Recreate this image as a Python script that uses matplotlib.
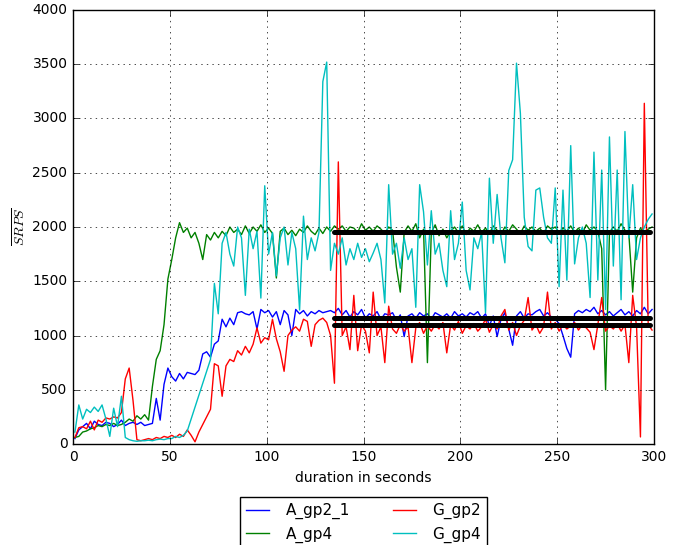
import numpy as np
import matplotlib
matplotlib.use("Agg")
import matplotlib.pyplot as plt

plt.style.use("classic")

# time axis (seconds)
t = np.arange(1, 300, 2)

a_gp2_1 = [
    50, 130, 160, 190, 140, 210, 180, 170, 200, 190,
    160, 180, 220, 170, 190, 200, 180, 200, 170, 180,
    190, 420, 220, 550, 700, 620, 580, 650, 600, 660,
    650, 640, 680, 830, 850, 800, 920, 950, 1150, 1080,
    1160, 1100, 1210, 1220, 1200, 1190, 1220, 1060, 1240, 1210,
    1230, 1170, 1220, 1100, 1230, 1190, 1000, 1240, 1200, 1230,
    1180, 1220, 1200, 1230, 1210, 1220, 1230, 1210,
    1250, 1190, 1230, 1170, 1220, 1190, 1240, 1160, 1200, 1180,
    1220, 1150, 1200, 1190, 1210, 1140, 1190, 990, 1180, 1200,
    1160, 1210, 1180, 1200, 1150, 1210, 1190, 1170, 1200, 1160,
    1220, 1180, 1200, 1170, 1210, 1190, 1220, 1160, 1200, 1090,
    1180, 990, 1150, 1210, 1060, 910, 1180, 1220, 1160, 1200,
    1190, 1220, 1240, 1180, 1210, 1170, 1150, 1110, 1000, 880,
    800, 1200, 1230, 1210, 1240, 1220, 1260, 1200, 1230, 1190,
    1220, 1180, 1210, 1240, 1190, 1220, 1180, 1230, 1200, 1260,
    1200, 1240,
]

a_gp4 = [
    60, 70, 110, 120, 140, 150, 170, 160, 180, 170,
    190, 170, 180, 200, 230, 210, 260, 230, 270, 220,
    530, 780, 860, 1100, 1520, 1700, 1900, 2040, 1950, 1990,
    1900, 1950, 1850, 1700, 1930, 1880, 1950, 1900, 1960, 1920,
    2000, 1950, 1980, 1930, 2010, 1940, 2000, 1960, 2020, 1950,
    1990, 1940, 1530, 1960, 1990, 1930, 1970, 1920, 1980, 1950,
    2010, 1960, 1930, 1990, 1940, 2000, 1960, 2010,
    1980, 2010, 1960, 2000, 1990, 1950, 2030, 1970, 2000, 1960,
    2010, 1980, 1940, 2000, 1970, 1630, 1400, 1950, 2010, 1960,
    2030, 1900, 1980, 750, 1950, 2020, 1920, 1980, 1900, 1960,
    2000, 1950, 2010, 1930, 1990, 1960, 2020, 1950, 1990, 1940,
    2010, 1970, 1930, 2000, 1960, 2020, 1980, 1940, 2010, 1970,
    2000, 1960, 1990, 1940, 2010, 1980, 2000, 1950, 1990, 1960,
    2010, 1950, 1990, 1940, 2020, 1970, 2000, 1960, 1800, 500,
    1950, 2000, 1960, 2030, 1970, 1940, 1400, 1900, 1990, 1950,
    1980, 2000,
]

g_gp2 = [
    60, 150, 160, 140, 210, 130, 220, 200, 240, 230,
    250, 240, 290, 600, 700, 400, 40, 30, 40, 50,
    40, 60, 50, 70, 60, 80, 60, 90, 70, 130,
    80, 20, 110, 180, 250, 320, 740, 720, 440, 720,
    780, 760, 860, 820, 900, 840, 920, 1070, 930, 980,
    960, 1150, 970, 850, 670, 1000, 1050, 1080, 1040, 1150,
    1130, 900, 1100, 1140, 1160, 1120, 1000, 560,
    2600, 1000, 1080, 870, 1370, 860, 1100, 1040, 840, 1400,
    1000, 1080, 750, 1270, 1060, 1020, 1100, 1040, 1080, 750,
    1070, 1120, 1020, 1090, 1040, 1100, 1060, 1120, 840, 1100,
    1050, 1130, 1020, 1090, 1060, 1110, 1040, 1080, 1150, 1030,
    1100, 1060, 1180, 1240, 1050, 1120, 1000, 1090, 1140, 1350,
    1050, 1100, 1020, 1080, 1400, 1060, 1120, 1040, 1100, 1060,
    1090, 1120, 1050, 1100, 1070, 1030, 870, 1100, 1350, 1040,
    1090, 1060, 1110, 1040, 1100, 750, 1370, 1080, 65, 3140,
    1100, 1050,
]

g_gp4 = [
    110, 360, 230, 320, 290, 340, 300, 360, 230, 70,
    330, 160, 440, 60, 40, 30, 25, 30, 30, 35,
    30, 40, 45, 40, 50, 50, 70, 60, 80, 120,
    230, 340, 450, 560, 670, 780, 1480, 1200, 1850, 1950,
    1750, 1640, 2000, 1900, 1370, 1980, 1800, 1960, 1345, 2380,
    1750, 1950, 1550, 1900, 2000, 1650, 1950, 1800, 1235, 2100,
    1700, 1900, 1780, 1950, 3340, 3520, 1600, 1850,
    1750, 1900, 1650, 1800, 1700, 1850, 1720, 1800, 1680, 1760,
    1850, 1700, 1300, 2390, 1750, 1850, 1620, 1900, 1700, 1800,
    1260, 2390, 2140, 1650, 2150, 1750, 1850, 1600, 1450, 2150,
    1700, 1850, 2230, 1600, 1420, 1900, 1800, 1950, 1210, 2450,
    1850, 2300, 1900, 1670, 2520, 2620, 3510, 3050, 2090, 1820,
    1780, 2340, 2360, 2090, 1900, 1850, 2360, 1450, 2340, 1510,
    2750, 1660, 1900, 2000, 1850, 1350, 2690, 1510, 2525, 1240,
    2830, 1640, 2525, 1330, 2880, 1900, 2390, 1700, 1900, 2000,
    2070, 2120,
]

series = [("A_gp2_1", a_gp2_1, "b"), ("A_gp4", a_gp4, "g"),
          ("G_gp2", g_gp2, "r"), ("G_gp4", g_gp4, "c")]

# mean levels drawn over the steady-state window
mean_start, mean_end = 135, 298
mean_levels = [1955, 1164, 1098]

xticks = [0, 50, 100, 150, 200, 250, 300]
yticks = [0, 500, 1000, 1500, 2000, 2500, 3000, 3500, 4000]

fig = plt.figure(figsize=(6.89, 5.45), dpi=100, facecolor="white")
ax = fig.add_axes([73 / 689, 101 / 545, 581 / 689, 434 / 545])

for name, vals, col in series:
    n = min(len(t), len(vals))
    ax.plot(t[:n], vals[:n], color=col, lw=1.0, label=name)

for lvl in mean_levels:
    ax.plot([mean_start, mean_end], [lvl, lvl], color="k", lw=3.6,
            solid_capstyle="round")

ax.set_xlim(0, 300)
ax.set_ylim(0, 4000)
ax.set_xticks(xticks)
ax.set_yticks(yticks)
ax.tick_params(labelsize=10)
ax.grid(True, linestyle=":", color="k")
ax.set_xlabel("duration in seconds", fontsize=10)
ax.set_ylabel(r"$\overline{SRPS}$", fontsize=10, labelpad=3)

leg = ax.legend(loc="upper center", bbox_to_anchor=(0.5, -0.104), ncol=2,
                fontsize=11, frameon=True, fancybox=False, numpoints=1,
                handlelength=1.5, handletextpad=1.1, columnspacing=2.8,
                labelspacing=0.5, borderpad=0.4)
leg.get_frame().set_edgecolor("k")

fig.savefig("out.png", dpi=100, facecolor="white")
